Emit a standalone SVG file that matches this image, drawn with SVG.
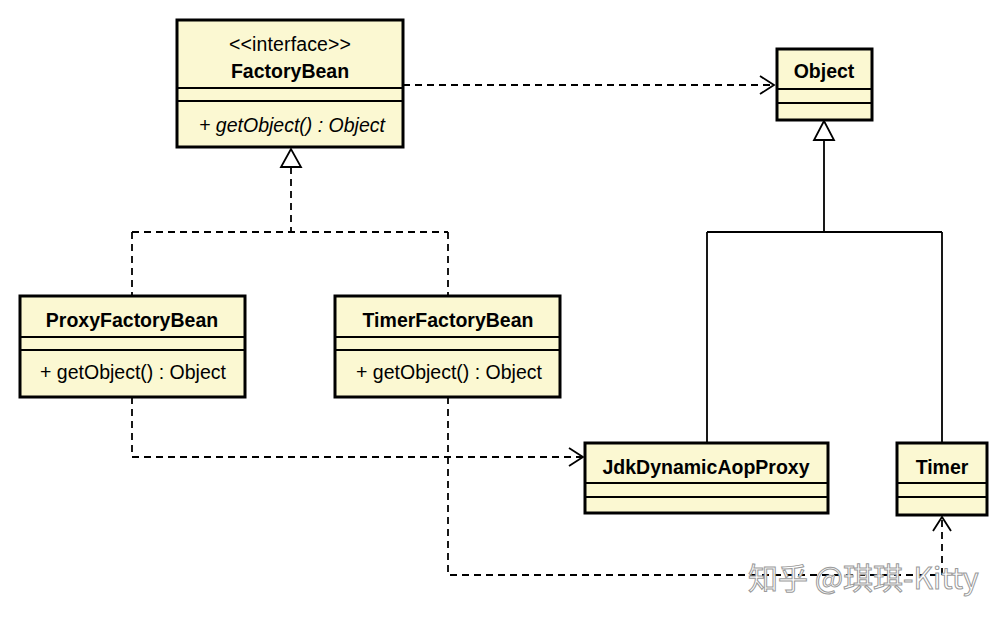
<svg xmlns="http://www.w3.org/2000/svg" width="1008" height="624" viewBox="0 0 1008 624">
<style>
.box{fill:#fbf8d2;stroke:#000;stroke-width:3}
.div{stroke:#000;stroke-width:2}
.t{font-family:"Liberation Sans",Arial,sans-serif;font-weight:bold;font-size:19.5px;text-anchor:middle;fill:#000}
.m{font-family:"Liberation Sans",Arial,sans-serif;font-size:19.5px;text-anchor:middle;fill:#000}
.dash{fill:none;stroke:#000;stroke-width:1.8;stroke-dasharray:7,5}
.solid{fill:none;stroke:#000;stroke-width:1.8}
.wm{font-family:"Noto Sans CJK SC","Liberation Sans",sans-serif;font-size:30px;fill:#fff;stroke:#9a9a9a;stroke-width:1}
</style>
<defs>
<marker id="open" markerUnits="userSpaceOnUse" markerWidth="20" markerHeight="24" refX="16" refY="12" orient="auto">
<path d="M2,3 L16,12 L2,21" fill="none" stroke="#000" stroke-width="1.8"/>
</marker>
</defs>
<rect width="1008" height="624" fill="#fff"/>
<g id="connectors">
<path class="dash" d="M403,85 H774" marker-end="url(#open)"/>
<path class="dash" d="M291,167 V232 M132,232 H448 M132,232 V295 M448,232 V295"/>
<polygon points="291,149 281,167 301,167" fill="#fff" stroke="#000" stroke-width="1.8"/>
<path class="solid" d="M824,140 V232 M707,232 H942 M707,232 V443 M942,232 V443"/>
<polygon points="824,121 814,140 834,140" fill="#fff" stroke="#000" stroke-width="1.8"/>
<path class="dash" d="M132,397 V457 H583" marker-end="url(#open)"/>
<path class="dash" d="M448,397 V575 H942 V517" marker-end="url(#open)"/>
</g>
<g id="FactoryBean">
<rect class="box" x="177" y="20" width="226" height="127"/>
<line class="div" x1="177" y1="88" x2="403" y2="88"/>
<line class="div" x1="177" y1="101" x2="403" y2="101"/>
<text class="m" x="290" y="51" font-size="17" textLength="122">&lt;&lt;interface&gt;&gt;</text>
<text class="t" x="290" y="78">FactoryBean</text>
<text class="m" x="292" y="132" font-style="italic">+ getObject() : Object</text>
</g>
<g id="Object">
<rect class="box" x="777" y="49" width="95" height="71"/>
<line class="div" x1="777" y1="89" x2="872" y2="89"/>
<line class="div" x1="777" y1="103" x2="872" y2="103"/>
<text class="t" x="824" y="78">Object</text>
</g>
<g id="ProxyFactoryBean">
<rect class="box" x="20" y="296" width="225" height="101"/>
<line class="div" x1="20" y1="337" x2="245" y2="337"/>
<line class="div" x1="20" y1="350" x2="245" y2="350"/>
<text class="t" x="132" y="327">ProxyFactoryBean</text>
<text class="m" x="133" y="379">+ getObject() : Object</text>
</g>
<g id="TimerFactoryBean">
<rect class="box" x="335" y="296" width="225" height="101"/>
<line class="div" x1="335" y1="337" x2="560" y2="337"/>
<line class="div" x1="335" y1="350" x2="560" y2="350"/>
<text class="t" x="448" y="327">TimerFactoryBean</text>
<text class="m" x="449" y="379">+ getObject() : Object</text>
</g>
<g id="JdkDynamicAopProxy">
<rect class="box" x="585" y="443" width="243" height="70"/>
<line class="div" x1="585" y1="483" x2="828" y2="483"/>
<line class="div" x1="585" y1="497" x2="828" y2="497"/>
<text class="t" x="706" y="474">JdkDynamicAopProxy</text>
</g>
<g id="Timer">
<rect class="box" x="897" y="443" width="90" height="72"/>
<line class="div" x1="897" y1="483" x2="987" y2="483"/>
<line class="div" x1="897" y1="497" x2="987" y2="497"/>
<text class="t" x="942" y="474">Timer</text>
</g>
<text class="wm" x="748" y="589">知乎 @琪琪-Kitty</text>
</svg>
